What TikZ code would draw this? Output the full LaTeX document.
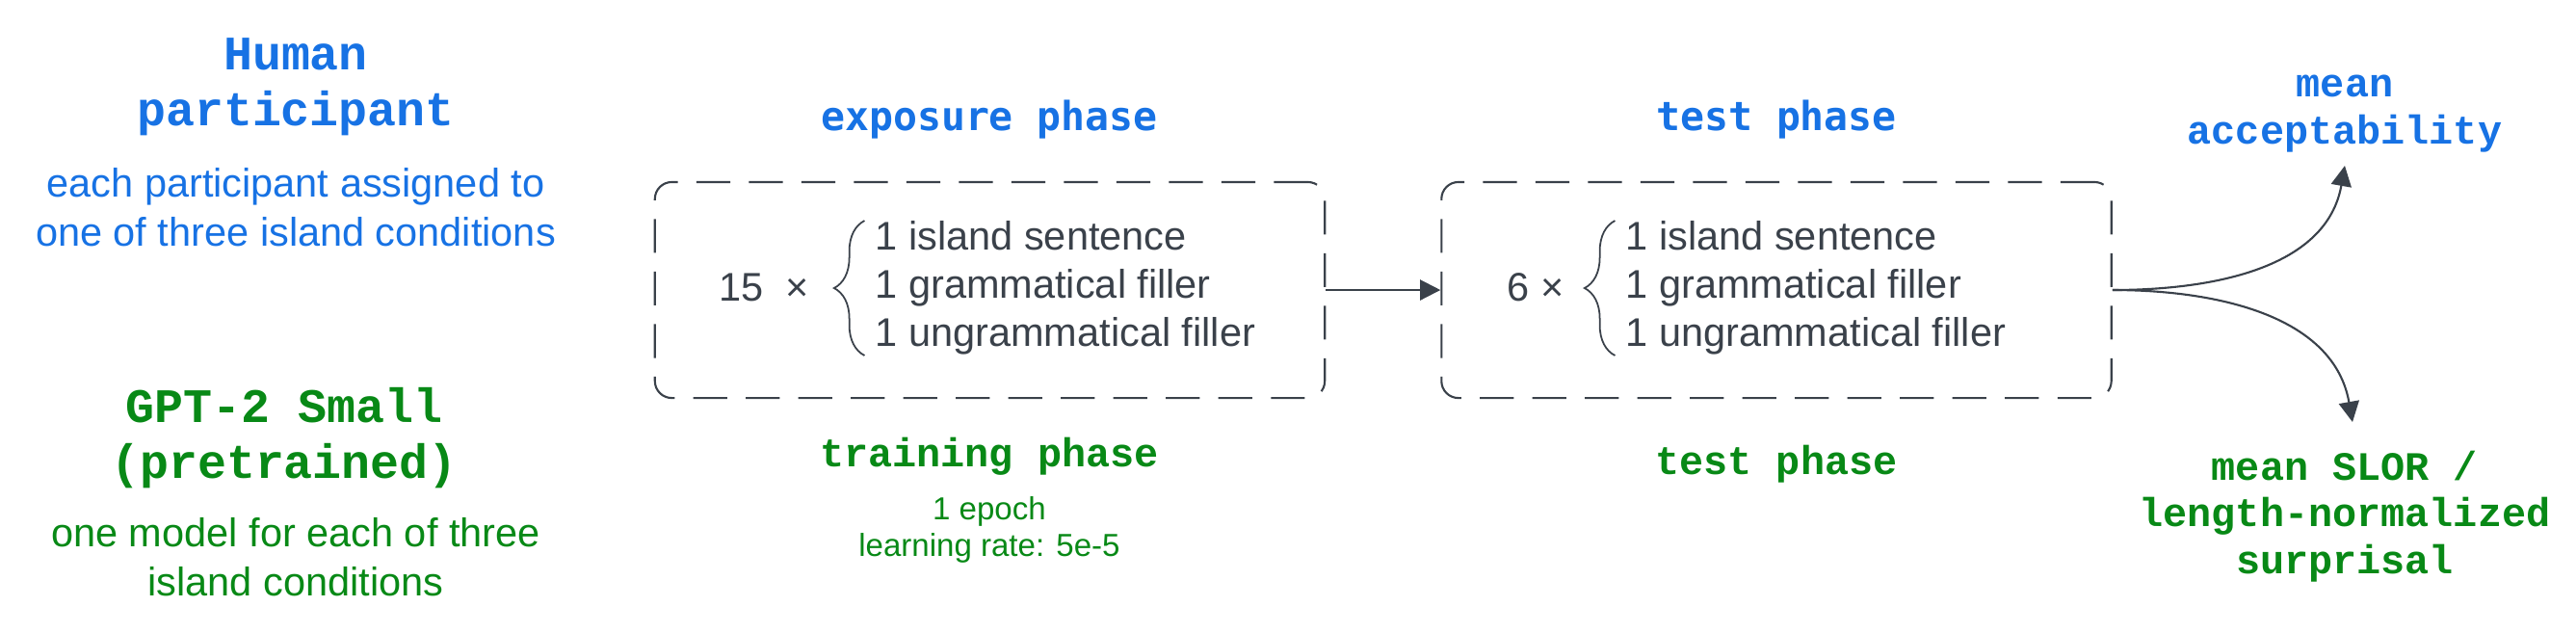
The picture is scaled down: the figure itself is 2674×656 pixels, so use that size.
\documentclass[tikz,border=0pt]{standalone}
\usepackage{fontspec}
\setmainfont{Liberation Sans}
\newfontfamily\hmono[BoldFont={Liberation Mono Bold}]{Liberation Mono}
\newfontfamily\pmono[BoldFont={DejaVu Sans Mono Bold}]{DejaVu Sans Mono}
\usetikzlibrary{arrows.meta,decorations.pathreplacing}
\definecolor{blu}{RGB}{23,114,228}
\definecolor{grn}{RGB}{8,137,22}
\definecolor{gry}{RGB}{58,65,74}
\tikzset{
  hdr/.style={font=\hmono\bfseries\fontsize{14.2pt}{16.5pt}\selectfont, align=center, inner sep=0pt},
  body/.style={font=\fontsize{11.8pt}{14.5pt}\selectfont, align=center, inner sep=0pt},
  bphase/.style={font=\pmono\bfseries\fontsize{11.8pt}{14pt}\selectfont, text=blu, inner sep=0pt},
  gphase/.style={font=\hmono\bfseries\fontsize{11.9pt}{14pt}\selectfont, text=grn, inner sep=0pt},
  res/.style={font=\hmono\bfseries\fontsize{11.9pt}{13.8pt}\selectfont, align=center, inner sep=0pt},
  smalltxt/.style={font=\fontsize{9.4pt}{10.6pt}\selectfont, align=center, text=grn, inner sep=0pt},
  item/.style={font=\fontsize{11.8pt}{14.2pt}\selectfont, text=gry, align=left, inner sep=0pt},
  phasebox/.style={draw=gry, line width=0.6pt, dash pattern=on 10pt off 5.5pt, rounded corners=5pt, minimum width=6.95cm, minimum height=2.24cm},
  conn/.style={draw=gry, line width=0.6pt, -{Triangle[length=6pt,width=6pt]}},
  brc/.style={draw=gry, line width=0.5pt, decorate, decoration={brace, amplitude=9pt}},
}
\begin{document}
\begin{tikzpicture}[x=0.01cm,y=-0.01cm]
\useasboundingbox (0,0) rectangle (2674,656);
% left column
\node[hdr, text=blu] (hum) at (307,90) {Human\\participant};
\node[body, text=blu] (humd) at (307,215) {each participant assigned to\\one of three island conditions};
\node[hdr, text=grn] (gpt) at (295,455) {GPT-2 Small\\(pretrained)};
\node[body, text=grn] (gptd) at (307,578) {one model for each of three\\island conditions};
% exposure / training
\node[bphase] (exp) at (1027,124) {exposure phase};
\node[phasebox] (b1) at (1027.5,301) {};
\node[item] (m1) at (793,298) {15\ \ ×};
\node[item, anchor=west] (l1) at (908,299) {1 island sentence\\1 grammatical filler\\1 ungrammatical filler};
\draw[brc] ([xshift=-3pt]l1.south west) -- ([xshift=-3pt]l1.north west);
\node[gphase] (trn) at (1027,474) {training phase};
\node[smalltxt] (trnd) at (1027,550) {1 epoch\\learning rate: 5e-5};
% test
\node[bphase] (tst) at (1844,124) {test phase};
\node[phasebox] (b2) at (1844,301) {};
\node[item] (m2) at (1594,298) {6 ×};
\node[item, anchor=west] (l2) at (1687,299) {1 island sentence\\1 grammatical filler\\1 ungrammatical filler};
\draw[brc] ([xshift=-3pt]l2.south west) -- ([xshift=-3pt]l2.north west);
\node[gphase] (tst2) at (1844,482) {test phase};
% results
\node[res, text=blu] (acc) at (2434,118) {mean\\acceptability};
\node[res, text=grn] (slor) at (2434,536) {mean SLOR /\\length-normalized\\surprisal};
\coordinate (ta) at (2434,172);
\coordinate (tb) at (2442,438);
% connectors
\draw[conn] (b1.east) -- (b2.west);
\draw[conn] (b2.east) to[out=0,in=-100] (ta);
\draw[conn] (b2.east) to[out=0,in=100] (tb);
\end{tikzpicture}
\end{document}
